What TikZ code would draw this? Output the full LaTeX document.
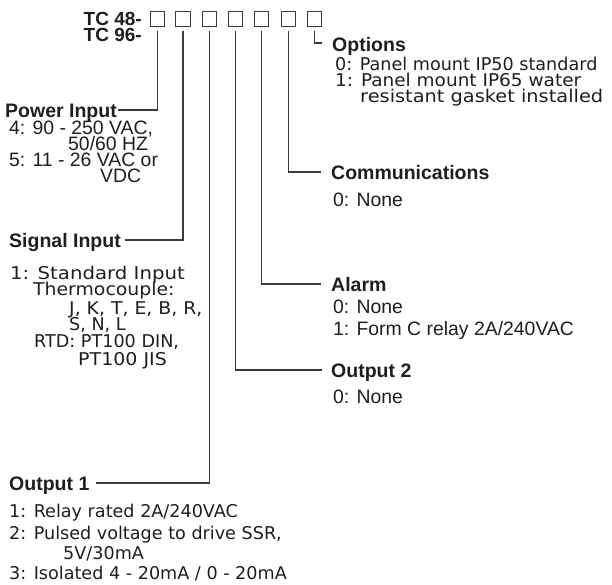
\documentclass[tikz,border=0pt]{standalone}
\usepackage{fontspec}
\newfontfamily\hdfont{Liberation Sans}[BoldFont={Liberation Sans Bold}]
\newfontfamily\bdfont{DejaVu Sans}
\newcommand\xwid[2]{\scalebox{#1}[1]{#2}}
\definecolor{ink}{HTML}{1E1E1E}
\definecolor{wire}{HTML}{3A3A3A}
\begin{document}
\begin{tikzpicture}[x=1pt,y=-1pt,
  hd/.style={font=\hdfont\bfseries\fontsize{19.5}{20}\selectfont, text=ink, inner sep=0pt, anchor=west, text height=14pt, text depth=0pt},
  tc/.style={font=\hdfont\bfseries\fontsize{19}{20}\selectfont, text=ink, inner sep=0pt, anchor=base east},
  bd/.style={font=\bdfont\fontsize{17.6}{18}\selectfont, text=ink, inner sep=0pt, anchor=base west},
  ba/.style={font=\hdfont\fontsize{19.4}{20}\selectfont, text=ink, inner sep=0pt, anchor=base west},
  codebox/.style={draw=wire, line width=1.4pt, minimum size=14.5pt, inner sep=0pt},
  ln/.style={draw=wire, line width=1.2pt}]
\useasboundingbox (0,0) rectangle (612,584);
% model code
\node[tc] (tc48) at (142,25.5) {TC 48-};
\node[tc] (tc96) at (142,41) {TC 96-};
\node[codebox] (b1) at (157.5,19) {};
\node[codebox] (b2) at (183,19) {};
\node[codebox] (b3) at (209.5,19) {};
\node[codebox] (b4) at (235.5,19) {};
\node[codebox] (b5) at (261.5,19) {};
\node[codebox] (b6) at (288.5,19) {};
\node[codebox] (b7) at (314.5,19) {};
% headings
\node[hd] (opt) at (332,44.5) {Options};
\node[hd] (pw) at (5,110) {Power Input};
\node[hd] (com) at (331,172) {Communications};
\node[hd] (sig) at (9,240) {Signal Input};
\node[hd] (al) at (331,284) {Alarm};
\node[hd] (o2) at (331,370) {Output 2};
\node[hd] (o1) at (9,483) {Output 1};
% bodies
\node[bd] (opt1) at (335,70.5) {0: Panel mount IP50 standard};
\node[bd] (opt2) at (335,86) {\xwid{1.05}{1: Panel mount IP65 water}};
\node[bd] (opt3) at (360,102.5) {\xwid{1.1}{resistant gasket installed}};
\node[ba] (pw1) at (9,134) {4: 90 - 250 VAC,};
\node[ba] (pw2) at (68,150) {50/60 HZ};
\node[ba] (pw3) at (9,166.5) {5: 11 - 26 VAC or};
\node[ba] (pw4) at (100,182.5) {VDC};
\node[ba] (com1) at (333,206) {0: None};
\node[bd] (sig1) at (10,279) {\xwid{1.12}{1: Standard Input}};
\node[bd] (sig2) at (33,295) {\xwid{1.07}{Thermocouple:}};
\node[bd] (sig3) at (69,314) {\xwid{1.07}{J, K, T, E, B, R,}};
\node[bd] (sig4) at (69,330.5) {S, N, L};
\node[bd] (sig5) at (34,347) {RTD: PT100 DIN,};
\node[bd] (sig6) at (78,365) {\xwid{1.08}{PT100 JIS}};
\node[ba] (al1) at (333,313.5) {0: None};
\node[ba] (al2) at (333,335) {1: Form C relay 2A/240VAC};
\node[ba] (o21) at (333,403) {0: None};
\node[bd] (o11) at (9,517.5) {1: Relay rated 2A/240VAC};
\node[bd] (o12) at (9,539) {2: Pulsed voltage to drive SSR,};
\node[bd] (o13) at (63,559.5) {5V/30mA};
\node[bd] (o14) at (9,579.5) {3: Isolated 4 - 20mA / 0 - 20mA};
% connectors
\draw[ln] ([yshift=-4pt]b1.south) |- ([xshift=1pt]pw.east);
\draw[ln] ([yshift=-4pt]b2.south) |- ([xshift=4pt]sig.east);
\draw[ln] ([yshift=-4pt]b3.south) |- ([xshift=6pt]o1.east);
\draw[ln] ([yshift=-4pt]b4.south) |- ([xshift=-9pt]o2.west);
\draw[ln] ([yshift=-4pt]b5.south) |- ([xshift=-10pt]al.west);
\draw[ln] ([yshift=-4pt]b6.south) |- ([xshift=-10pt]com.west);
\draw[ln] ([yshift=-4pt]b7.south) |- ([xshift=-10pt,yshift=1.5pt]opt.west);
\end{tikzpicture}
\end{document}
